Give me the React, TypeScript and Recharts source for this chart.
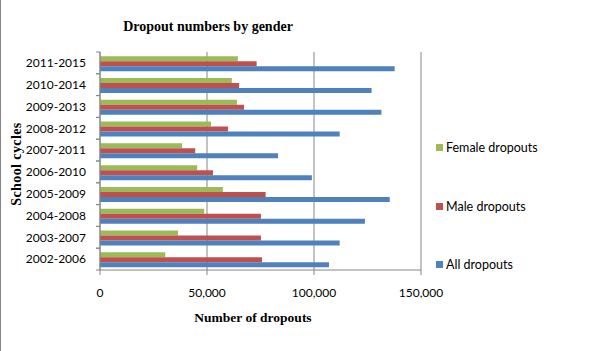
import { BarChart, Bar, XAxis, YAxis, CartesianGrid } from "recharts";

const cycles = [
  "2011-2015",
  "2010-2014",
  "2009-2013",
  "2008-2012",
  "2007-2011",
  "2006-2010",
  "2005-2009",
  "2004-2008",
  "2003-2007",
  "2002-2006",
];
const femaleDropouts = [64400, 61600, 64000, 51900, 38400, 45400, 57400, 48700, 36500, 30500];
const maleDropouts = [73200, 65000, 67300, 59800, 44500, 52800, 77400, 75200, 75200, 75700];
const allDropouts = [137700, 126900, 131500, 112000, 83200, 99000, 135400, 123800, 112000, 107000];
const xTicks = [0, 50000, 100000, 150000];

const series = [
  { key: "female", name: "Female dropouts", color: "#9BBB59" },
  { key: "male", name: "Male dropouts", color: "#C0504D" },
  { key: "all", name: "All dropouts", color: "#4F81BD" },
];

const data = cycles.map((cycle, i) => ({
  cycle,
  female: femaleDropouts[i],
  male: maleDropouts[i],
  all: allDropouts[i],
}));

const W = 600;
const H = 351;
const M = { top: 52, right: 178, bottom: 51, left: 0 };
const X_AXIS_H = 30;
const AXIS_COLOR = "#868686";
const TICK_FONT = "Lato, 'Open Sans', sans-serif";
const TITLE_FONT = "'Liberation Serif', 'DejaVu Serif', serif";

const band = (H - M.top - M.bottom - X_AXIS_H) / cycles.length;

function CycleTick(props: any) {
  const { x, y, payload } = props;
  return (
    <g>
      <line x1={x + 10} x2={x + 14} y1={y - band / 2} y2={y - band / 2} stroke={AXIS_COLOR} />
      <line x1={x + 10} x2={x + 14} y1={y + band / 2} y2={y + band / 2} stroke={AXIS_COLOR} />
      <text x={x} y={y} dy="0.36em" textAnchor="end" fontSize={12} fontFamily={TICK_FONT} fill="#000">
        {payload.value}
      </text>
    </g>
  );
}

export default function App() {
  return (
    <div
      style={{
        position: "absolute",
        left: 0,
        top: 0,
        width: W,
        height: H,
        background: "#fff",
        borderLeft: `1px solid ${AXIS_COLOR}`,
        boxSizing: "border-box",
      }}
    >
      <div
        style={{
          position: "absolute",
          left: 207,
          top: 19,
          transform: "translateX(-50%)",
          fontFamily: TITLE_FONT,
          fontWeight: "bold",
          fontSize: 14,
          whiteSpace: "nowrap",
        }}
      >
        Dropout numbers by gender
      </div>
      <div
        style={{
          position: "absolute",
          left: 16,
          top: 164,
          transform: "translate(-50%, -50%) rotate(-90deg)",
          fontFamily: TITLE_FONT,
          fontWeight: "bold",
          fontSize: 14,
          letterSpacing: 0.4,
          lineHeight: "14px",
          whiteSpace: "nowrap",
        }}
      >
        School cycles
      </div>
      <div
        style={{
          position: "absolute",
          left: 252,
          top: 310,
          transform: "translateX(-50%)",
          fontFamily: TITLE_FONT,
          fontWeight: "bold",
          fontSize: 13.5,
          whiteSpace: "nowrap",
        }}
      >
        Number of dropouts
      </div>
      <BarChart
        width={W - 1}
        height={H}
        data={data}
        layout="vertical"
        margin={M}
        barCategoryGap="19%"
        barGap={0}
        style={{ position: "absolute", left: -1, top: 0 }}
      >
        <CartesianGrid horizontal={false} stroke={AXIS_COLOR} strokeWidth={1} />
        <XAxis
          type="number"
          domain={[0, 150000]}
          ticks={xTicks}
          height={X_AXIS_H}
          stroke={AXIS_COLOR}
          tickSize={5}
          tickMargin={13}
          tickFormatter={(v: number) => v.toLocaleString("en-US")}
          tick={{ fontSize: 12, fontFamily: TICK_FONT, fill: "#000" }}
        />
        <YAxis
          type="category"
          dataKey="cycle"
          width={100}
          stroke={AXIS_COLOR}
          tickLine={false}
          tickSize={0}
          tickMargin={14}
          tick={<CycleTick />}
          interval={0}
        />
        {series.map((s) => (
          <Bar key={s.key} dataKey={s.key} name={s.name} fill={s.color} isAnimationActive={false} />
        ))}
      </BarChart>
      {series.map((s, i) => (
        <div
          key={s.key}
          style={{
            position: "absolute",
            left: 435,
            top: 140 + i * 58.5,
            display: "flex",
            alignItems: "center",
            fontFamily: TICK_FONT,
            fontSize: 12.5,
            color: "#000",
            whiteSpace: "nowrap",
          }}
        >
          <span style={{ width: 7, height: 7, background: s.color, marginRight: 3 }} />
          {s.name}
        </div>
      ))}
    </div>
  );
}
